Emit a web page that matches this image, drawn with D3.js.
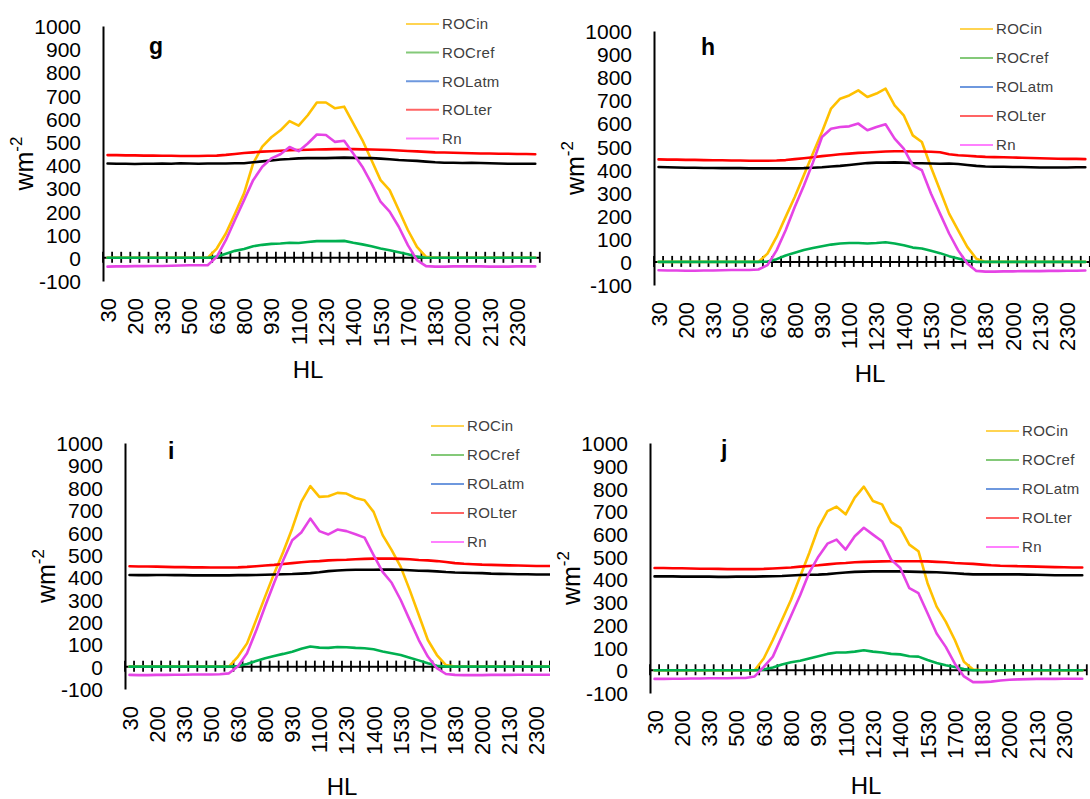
<!DOCTYPE html>
<meta charset="utf-8">
<style>
body { margin: 0; background: #fff; }
svg text { font-family: "Liberation Sans", Arial, sans-serif; fill: #000; }
.series { fill: none; stroke-width: 2.6; stroke-linejoin: round; stroke-linecap: round; }
.legend text { fill: #404040; font-size: 15px; letter-spacing: 0.3px; }
</style>
<body>
<svg id="chart" width="1090" height="799"></svg>

<script src="https://cdn.jsdelivr.net/npm/d3@7"></script>
<script>
// half-hourly local time (HL)
var categories = ["30","100","130","200","230","300","330","400","430","500","530","600",
  "630","700","730","800","830","900","930","1000","1030","1100","1130","1200",
  "1230","1300","1330","1400","1430","1500","1530","1600","1630","1700","1730","1800",
  "1830","1900","1930","2000","2030","2100","2130","2200","2230","2300","2330","2400"];
var xTickLabels = ["30","200","330","500","630","800","930","1100","1230","1400","1530","1700","1830","2000","2130","2300"];
var yTicks = [-100,0,100,200,300,400,500,600,700,800,900,1000];

var seriesNames = ["ROCin","ROCref","ROLatm","ROLter","Rn"];
var lineColors = ["#ffc000","#00b050","#000000","#ff0000","#e544e5"];
var legendColors = ["#ffd452","#84c979","#6e98de","#ff6464","#ff80ff"];

// ---- panel g
var rocinG = [0,0,0,0,0,0,0,0,0,0,0,0, 40,105,190,278,407,480,520,550,590,570,615,670, 670,645,652,580,508,422,335,292,206,120,47,4, 0,0,0,0,0,0,0,0,0,0,0,0];
var rocrefG = [0,0,0,0,0,0,0,0,0,0,0,0, 5,18,30,38,50,56,60,62,65,64,68,72, 72,72,73,65,58,50,40,33,24,15,5,0, 0,0,0,0,0,0,0,0,0,0,0,0];
var rolatmG = [407,406,406,405,406,406,407,406,408,407,406,407, 407,407,408,408,412,416,420,424,426,429,430,430, 430,431,432,431,430,430,428,425,422,420,418,415, 412,410,410,409,410,409,408,407,406,406,406,406];
var rolterG = [443,443,442,442,441,441,440,440,439,439,439,440, 441,444,448,452,455,458,460,462,464,465,466,467, 468,469,469,469,468,467,466,465,463,461,459,457, 455,454,453,452,451,450,450,449,449,448,448,447];
var rnG = [-38,-37,-37,-36,-36,-35,-35,-34,-33,-32,-32,-32, 4,76,163,249,335,393,429,447,478,460,493,532, 530,500,505,450,393,321,242,199,134,55,-10,-36, -38,-38,-37,-37,-37,-37,-38,-38,-38,-37,-37,-37];

// ---- panel h
var rocinH = [0,0,0,0,0,0,0,0,0,0,0,0, 36,108,195,281,375,469,563,664,707,721,743,714, 729,750,678,635,548,519,411,310,209,137,65,14, 0,0,0,0,0,0,0,0,0,0,0,0];
var rocrefH = [0,0,0,0,0,0,0,0,0,0,0,0, 2,12,28,40,52,60,68,75,80,82,82,80, 82,85,80,72,62,58,48,38,25,15,5,0, 0,0,0,0,0,0,0,0,0,0,0,0];
var rolatmH = [411,410,409,408,408,407,407,406,406,406,405,405, 405,405,405,405,406,408,410,413,416,420,424,428, 430,430,431,430,428,427,426,425,426,424,420,416, 413,412,412,411,411,410,409,409,409,409,410,410];
var rolterH = [444,443,443,442,442,441,440,440,439,439,438,438, 438,439,441,445,449,453,458,462,466,469,472,474, 476,478,479,479,478,478,477,475,466,462,460,457, 455,454,453,452,451,450,449,448,447,446,446,445];
var rnH = [-36,-37,-37,-38,-38,-37,-37,-36,-35,-35,-35,-33, -14,50,137,238,330,430,541,577,584,587,599,570, 584,596,534,491,418,397,296,209,123,50,-7,-39, -42,-42,-41,-41,-40,-40,-40,-39,-39,-38,-38,-37];

// ---- panel i
var rocinI = [0,0,0,0,0,0,0,0,0,0,0,0, 45,104,208,313,417,513,618,737,807,759,762,777, 774,754,744,692,588,521,446,342,231,119,52,7, 0,0,0,0,0,0,0,0,0,0,0,0];
var rocrefI = [0,0,0,0,0,0,0,0,0,0,0,0, 3,12,25,38,48,57,67,80,90,85,84,88, 87,84,82,78,68,60,52,40,28,15,4,0, 0,0,0,0,0,0,0,0,0,0,0,0];
var rolatmI = [410,409,409,410,410,409,409,408,408,408,408,408, 409,409,410,411,412,413,414,416,418,422,427,430, 432,433,433,433,434,434,433,431,429,428,426,423, 421,420,419,418,416,415,414,413,413,412,412,412];
var rolterI = [449,448,448,447,446,445,445,444,444,443,443,443, 444,446,449,452,455,459,463,467,470,472,475,477, 478,480,482,483,483,483,482,480,477,475,472,468, 463,460,458,456,455,454,453,452,451,450,450,450];
var rnI = [-37,-38,-38,-37,-37,-36,-36,-35,-35,-35,-34,-30, 2,60,160,270,375,476,565,600,662,606,591,613, 606,592,577,499,424,375,298,208,119,45,-7,-33, -37,-38,-38,-38,-37,-37,-37,-36,-36,-36,-36,-36];

// ---- panel j
var rocinJ = [0,0,0,0,0,0,0,0,0,0,0,0, 52,133,221,310,413,516,627,700,720,686,760,808, 745,730,652,627,553,524,383,280,214,133,37,3, 0,0,0,0,0,0,0,0,0,0,0,0];
var rocrefJ = [0,0,0,0,0,0,0,0,0,0,0,0, 3,12,25,35,42,52,62,72,78,78,82,88, 82,78,72,70,62,60,45,32,22,14,5,0, 0,0,0,0,0,0,0,0,0,0,0,0];
var rolatmJ = [413,413,413,412,412,412,412,411,411,412,412,412, 413,414,415,417,419,420,421,423,427,430,433,434, 435,435,435,435,434,433,432,431,429,427,424,422, 422,422,422,422,422,421,420,419,418,418,418,418];
var rolterJ = [450,450,449,449,448,447,447,446,445,445,445,445, 446,448,450,452,456,459,462,466,470,472,475,477, 478,479,480,480,480,480,479,477,475,472,470,468, 465,462,460,459,458,457,456,455,454,453,452,452];
var rnJ = [-38,-38,-37,-37,-36,-36,-35,-35,-35,-34,-34,-27, 15,60,150,240,330,430,500,557,575,531,590,627, 597,568,487,450,361,339,251,162,103,29,-27,-52, -52,-50,-45,-42,-40,-39,-38,-38,-38,-37,-37,-37];

// layout of the four panels (pixel positions only)
var panels = [
  {label: "g", left: 103, step: 9.1, top: 26, bottom: 281, letter: [149, 54], legend: [406, 24], legendGap: 28.6, hl: [308, 378],
   data: [rocinG, rocrefG, rolatmG, rolterG, rnG]},
  {label: "h", left: 654, step: 9.08, top: 31, bottom: 285, letter: [701, 55], legend: [960, 29], legendGap: 29, hl: [870, 382],
   data: [rocinH, rocrefH, rolatmH, rolterH, rnH]},
  {label: "i", left: 125, step: 9.04, top: 443, bottom: 689, letter: [168, 459], legend: [431, 426], legendGap: 29, hl: [342, 795],
   data: [rocinI, rocrefI, rolatmI, rolterI, rnI]},
  {label: "j", left: 650, step: 9.1, top: 443, bottom: 693, letter: [721, 457], legend: [986, 431], legendGap: 29, hl: [866, 794],
   cover: [550, 400], data: [rocinJ, rocrefJ, rolatmJ, rolterJ, rnJ]}
];

function draw(p) {
  var svg = d3.select("#chart");
  var g = svg.append("g");

  // panel j sits on top of panel i and hides its right end
  if (p.cover) {
    g.append("rect").attr("x", p.cover[0]).attr("y", p.cover[1])
      .attr("width", 1090 - p.cover[0]).attr("height", 799 - p.cover[1]).attr("fill", "#fff");
  }

  var x = d3.scaleBand().domain(categories).range([p.left, p.left + p.step * categories.length]);
  var y = d3.scaleLinear().domain([yTicks[0], yTicks[yTicks.length - 1]]).range([p.bottom, p.top]);
  var cx = function(c) { return x(c) + x.bandwidth() / 2; };

  // y axis
  var yaxis = d3.axisLeft(y).tickValues(yTicks).tickSize(0).tickPadding(22)
    .tickFormat(function(d) { return String(d); });
  var ya = g.append("g").attr("transform", "translate(" + p.left + ",0)").call(yaxis);
  ya.attr("font-size", 21);
  ya.select(".domain").attr("stroke", "#000").attr("stroke-width", 2);
  ya.selectAll("text").attr("dy", "0.36em");

  // category axis along zero, ticks between categories
  var bounds = categories.map(function(c) { return x(c); }).concat([x.range()[1]]);
  var xa = g.append("g");
  xa.append("line")
    .attr("x1", x.range()[0]).attr("x2", x.range()[1])
    .attr("y1", y(0)).attr("y2", y(0))
    .attr("stroke", "#000").attr("stroke-width", 2);
  xa.selectAll(".tk").data(bounds).enter().append("line")
    .attr("x1", function(d) { return d; }).attr("x2", function(d) { return d; })
    .attr("y1", y(0) - 6).attr("y2", y(0) + 5)
    .attr("stroke", "#000").attr("stroke-width", 1.8);

  // rotated category labels below the plot
  g.selectAll(".xlab").data(xTickLabels).enter().append("text")
    .attr("transform", function(c) { return "translate(" + (cx(c) + 8) + "," + (p.bottom + 17) + ") rotate(-90)"; })
    .attr("text-anchor", "end")
    .style("font-size", "22px")
    .text(function(c) { return c; });

  // axis titles
  var yt = g.append("text")
    .attr("transform", "translate(" + (p.left - 70) + "," + ((p.top + p.bottom) / 2 + 10) + ") rotate(-90)")
    .attr("text-anchor", "middle")
    .style("font-size", "25px")
    .text("wm");
  yt.append("tspan").attr("dy", -11).style("font-size", "17px").text("-2");

  g.append("text").attr("x", p.hl[0]).attr("y", p.hl[1])
    .attr("text-anchor", "middle").style("font-size", "24px").text("HL");

  g.append("text").attr("x", p.letter[0]).attr("y", p.letter[1])
    .style("font-size", "23px").style("font-weight", "bold").text(p.label);

  // lines
  var series = seriesNames.map(function(name, k) {
    return {name: name, color: lineColors[k], legendColor: legendColors[k], values: p.data[k]};
  });
  var line = d3.line()
    .x(function(d, i) { return cx(categories[i]); })
    .y(function(d) { return y(d); });

  g.selectAll(".series").data(series).enter().append("path")
    .attr("class", "series")
    .attr("d", function(s) { return line(s.values); })
    .attr("stroke", function(s) { return s.color; });

  // legend
  var leg = g.append("g").attr("class", "legend")
    .selectAll("g").data(series).enter().append("g")
    .attr("transform", function(s, i) { return "translate(" + p.legend[0] + "," + (p.legend[1] + i * p.legendGap) + ")"; });
  leg.append("line").attr("x1", 0).attr("x2", 33)
    .attr("stroke", function(s) { return s.legendColor; }).attr("stroke-width", 2);
  leg.append("text").attr("x", 36).attr("dy", "0.36em")
    .text(function(s) { return s.name; });
}

panels.forEach(draw);
</script>
</body>
